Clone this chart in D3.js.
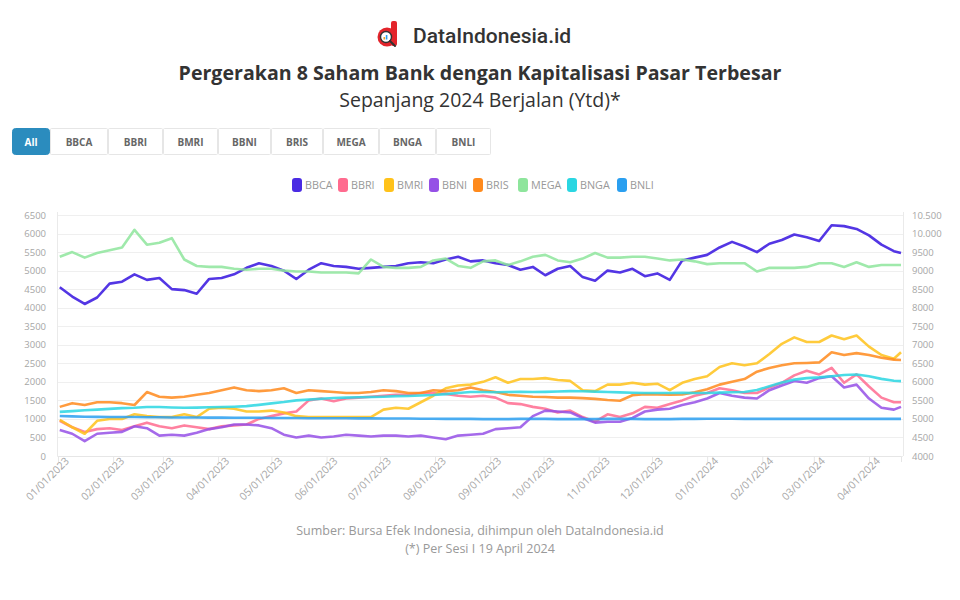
<!DOCTYPE html>
<html>
<head>
<meta charset="utf-8">
<script src="https://cdn.jsdelivr.net/npm/d3@7"></script>
<style>
  html, body { margin: 0; padding: 0; background: #fff; }
  svg { display: block; font-family: "Open Sans", "Noto Sans", sans-serif; }
</style>
</head>
<body>
<svg id="chart" width="960" height="600"></svg>
<script>
// ---------------- DATA ----------------
const dates = [
  "2023-01-02","2023-01-09","2023-01-16","2023-01-23","2023-01-30",
  "2023-02-06","2023-02-13","2023-02-20","2023-02-27",
  "2023-03-06","2023-03-13","2023-03-20","2023-03-27",
  "2023-04-03","2023-04-10","2023-04-17","2023-04-24",
  "2023-05-01","2023-05-08","2023-05-15","2023-05-22","2023-05-29",
  "2023-06-05","2023-06-12","2023-06-19","2023-06-26",
  "2023-07-03","2023-07-10","2023-07-17","2023-07-24","2023-07-31",
  "2023-08-07","2023-08-14","2023-08-21","2023-08-28",
  "2023-09-04","2023-09-11","2023-09-18","2023-09-25",
  "2023-10-02","2023-10-09","2023-10-16","2023-10-23","2023-10-30",
  "2023-11-06","2023-11-13","2023-11-20","2023-11-27",
  "2023-12-04","2023-12-11","2023-12-18","2023-12-25",
  "2024-01-01","2024-01-08","2024-01-15","2024-01-22","2024-01-29",
  "2024-02-05","2024-02-12","2024-02-19","2024-02-26",
  "2024-03-04","2024-03-11","2024-03-18","2024-03-25",
  "2024-04-01","2024-04-08","2024-04-15","2024-04-19"
];

// right axis series
const BBCA = [8550,8300,8100,8275,8650,8700,8900,8750,8800,8500,8475,8375,8775,8800,8900,9075,9200,9125,9000,8775,9025,9200,9125,9100,9050,9075,9100,9125,9200,9225,9200,9300,9375,9250,9275,9200,9150,9025,9100,8875,9050,9125,8825,8725,9000,8950,9050,8850,8925,8750,9275,9350,9425,9625,9775,9650,9500,9725,9825,9975,9900,9800,10225,10200,10125,9950,9700,9525,9475];
const BBRI = [4950,4775,4650,4725,4750,4700,4800,4900,4800,4750,4825,4775,4725,4800,4825,4850,5000,5075,5150,5200,5500,5550,5475,5550,5575,5600,5625,5650,5650,5700,5700,5675,5625,5600,5625,5575,5425,5400,5325,5275,5175,5225,5050,4925,5125,5050,5150,5325,5300,5400,5500,5625,5700,5825,5775,5700,5700,5850,5975,6175,6300,6200,6375,5975,6200,5875,5575,5450,5450];
const BMRI = [4975,4775,4600,4950,5000,5000,5125,5075,5050,5050,5125,5050,5275,5300,5275,5200,5200,5225,5175,5075,5050,5050,5050,5050,5050,5050,5250,5300,5275,5450,5625,5825,5900,5925,6000,6125,5975,6075,6075,6100,6050,6025,5775,5750,5925,5925,5975,5925,5950,5775,5975,6075,6150,6400,6500,6450,6500,6750,7025,7200,7075,7075,7250,7150,7250,6950,6725,6625,6800];
const BBNI = [4700,4600,4400,4600,4625,4650,4800,4750,4550,4575,4550,4625,4725,4775,4850,4850,4825,4750,4575,4500,4550,4500,4525,4575,4550,4525,4550,4550,4525,4550,4500,4450,4550,4575,4600,4725,4750,4775,5075,5225,5200,5175,5025,4900,4925,4925,5025,5200,5250,5275,5375,5450,5550,5700,5625,5575,5550,5775,5900,6025,5975,6100,6150,5850,5925,5550,5300,5250,5325];
// left axis series
const BRIS = [1325,1425,1375,1450,1450,1425,1375,1725,1600,1575,1600,1650,1700,1775,1850,1775,1750,1775,1825,1700,1775,1750,1725,1700,1700,1725,1775,1750,1700,1700,1775,1750,1775,1850,1775,1725,1650,1625,1600,1590,1575,1575,1560,1540,1510,1490,1640,1670,1660,1650,1660,1720,1800,1925,2000,2075,2275,2375,2450,2500,2510,2525,2800,2725,2775,2725,2650,2600,2590];
const MEGA = [5375,5500,5350,5475,5550,5625,6100,5700,5750,5875,5300,5125,5100,5100,5050,5025,5050,5050,5000,4975,4975,4950,4950,4950,4925,5300,5100,5075,5075,5100,5275,5325,5125,5075,5250,5275,5150,5250,5375,5425,5275,5225,5325,5475,5350,5350,5375,5375,5325,5275,5300,5250,5175,5200,5200,5200,4975,5075,5075,5075,5100,5200,5200,5100,5225,5100,5150,5150,5150];
const BNGA = [1190,1210,1235,1250,1270,1290,1300,1320,1320,1310,1300,1305,1315,1320,1330,1345,1380,1420,1455,1500,1520,1545,1565,1575,1585,1590,1600,1615,1620,1630,1645,1670,1700,1725,1725,1720,1725,1730,1725,1730,1740,1750,1745,1735,1725,1715,1705,1700,1700,1700,1705,1700,1700,1710,1720,1725,1780,1880,1980,2060,2100,2120,2150,2185,2200,2150,2080,2030,2020];
const BNLI = [1080,1070,1060,1055,1050,1050,1050,1045,1045,1040,1040,1040,1035,1035,1030,1030,1030,1025,1025,1025,1020,1020,1020,1020,1015,1015,1010,1010,1010,1005,1005,1000,1000,1000,995,995,995,1000,1000,1000,995,995,995,995,1000,1000,1000,995,995,995,1000,1000,1005,1005,1005,1000,1000,1000,1000,1000,1000,1000,1000,1000,1000,1000,1000,1000,1000];

const seriesNames = ["BBCA","BBRI","BMRI","BBNI","BRIS","MEGA","BNGA","BNLI"];
const seriesValues = [BBCA, BBRI, BMRI, BBNI, BRIS, MEGA, BNGA, BNLI];
const seriesAxis = ["right","right","right","right","left","left","left","left"];
const seriesColors = ["#4a2be3","#ff6b8f","#ffc21a","#9550e6","#ff8a1c","#8ee59c","#2ad6e2","#2a9ff0"];

const buttonLabels = ["All","BBCA","BBRI","BMRI","BBNI","BRIS","MEGA","BNGA","BNLI"];
const leftTicks = [0,500,1000,1500,2000,2500,3000,3500,4000,4500,5000,5500,6000,6500];
const rightTicks = [4000,4500,5000,5500,6000,6500,7000,7500,8000,8500,9000,9500,10000,10500];

const titleText = "Pergerakan 8 Saham Bank dengan Kapitalisasi Pasar Terbesar";
const subtitleText = "Sepanjang 2024 Berjalan (Ytd)*";
const sourceText = "Sumber: Bursa Efek Indonesia, dihimpun oleh DataIndonesia.id";
const noteText = "(*) Per Sesi I 19 April 2024";

// ---------------- DRAW ----------------
const svg = d3.select("#chart");
const parse = d3.utcParse("%Y-%m-%d");
const dateObjs = dates.map(parse);

// header logo
const logo = svg.append("g");
logo.append("rect").attr("x", 391).attr("y", 21).attr("width", 6).attr("height", 25).attr("rx", 2).attr("fill", "#e3242b");
logo.append("circle").attr("cx", 387).attr("cy", 37).attr("r", 9.5).attr("fill", "#e3242b");
logo.append("circle").attr("cx", 386).attr("cy", 37).attr("r", 5.5).attr("fill", "#fff").attr("stroke", "#333").attr("stroke-width", 1.4);
logo.append("line").attr("x1", 390).attr("y1", 41).attr("x2", 395).attr("y2", 46).attr("stroke", "#333").attr("stroke-width", 2).attr("stroke-linecap", "round");
logo.append("rect").attr("x", 383.5).attr("y", 37).attr("width", 1.6).attr("height", 2.5).attr("fill", "#f0a020");
logo.append("rect").attr("x", 385.8).attr("y", 35).attr("width", 1.6).attr("height", 4.5).attr("fill", "#2a9ff0");
svg.append("text").attr("x", 413).attr("y", 43).attr("font-family", "Roboto, 'Open Sans', sans-serif")
  .attr("font-size", 21).attr("font-weight", 500).attr("fill", "#333").text("DataIndonesia.id");

svg.append("text").attr("x", 480).attr("y", 80).attr("text-anchor", "middle")
  .attr("font-size", 19.6).attr("font-weight", 700).attr("fill", "#333").text(titleText);
svg.append("text").attr("x", 480).attr("y", 107).attr("text-anchor", "middle")
  .attr("font-size", 19.5).attr("fill", "#333").text(subtitleText);

// buttons
const btnX = [12,50,108,163,218,271,323,379,436,491];
const btnG = svg.append("g");
buttonLabels.forEach((lab, i) => {
  const x0 = btnX[i], w = btnX[i+1] - btnX[i];
  btnG.append("rect").attr("x", x0 + 0.5).attr("y", 128.5).attr("width", w - 1).attr("height", 26).attr("rx", i === 0 ? 3 : 1)
    .attr("fill", i === 0 ? "#2b8cbe" : "#fff").attr("stroke", i === 0 ? "#2b8cbe" : "#e6e6e6");
  btnG.append("text").attr("x", x0 + w / 2).attr("y", 145.5).attr("text-anchor", "middle")
    .attr("font-size", 10).attr("font-weight", 700).attr("fill", i === 0 ? "#fff" : "#666").text(lab);
});

// legend
const legX = [297,343,389,434,478,523,572,622];
const legG = svg.append("g");
seriesNames.forEach((n, i) => {
  legG.append("rect").attr("x", legX[i] - 5).attr("y", 178).attr("width", 10).attr("height", 14).attr("rx", 3).attr("fill", seriesColors[i]);
  legG.append("text").attr("x", legX[i] + 8).attr("y", 189).attr("font-size", 10.8).attr("fill", "#999").text(n);
});

// scales
const x = d3.scaleUtc().domain([parse("2023-01-01"), parse("2024-04-19")]).range([58, 901]);
const yL = d3.scaleLinear().domain([0, 6500]).range([456, 215]);
const yR = d3.scaleLinear().domain([4000, 10500]).range([456, 215]);

// grid
const grid = svg.append("g");
leftTicks.forEach(t => {
  grid.append("line").attr("x1", 57).attr("x2", 903).attr("y1", Math.round(yL(t)) + 0.5).attr("y2", Math.round(yL(t)) + 0.5)
    .attr("stroke", "#efefef").attr("stroke-width", 1);
});
grid.append("line").attr("x1", 57.5).attr("x2", 57.5).attr("y1", 212).attr("y2", 456).attr("stroke", "#eaeaea");
grid.append("line").attr("x1", 903.5).attr("x2", 903.5).attr("y1", 212).attr("y2", 456).attr("stroke", "#eaeaea");

// left axis
const axL = svg.append("g").attr("transform", "translate(57,0)")
  .call(d3.axisLeft(yL).tickValues(leftTicks).tickSize(0).tickPadding(11).tickFormat(d3.format("d")));
axL.select(".domain").remove();
axL.selectAll("text").attr("font-size", 9.5).attr("fill", "#a6a6a6").attr("font-family", "'Open Sans', sans-serif");

// right axis
const fmtR = v => v >= 10000 ? d3.format(",")(v).replace(/,/g, ".") : String(v);
const axR = svg.append("g").attr("transform", "translate(903,0)")
  .call(d3.axisRight(yR).tickValues(rightTicks).tickSize(0).tickPadding(9).tickFormat(fmtR));
axR.select(".domain").remove();
axR.selectAll("text").attr("font-size", 9.5).attr("fill", "#a6a6a6").attr("font-family", "'Open Sans', sans-serif");

// x axis
const monthTicks = d3.utcMonth.range(parse("2023-01-01"), parse("2024-04-02"));
const axX = svg.append("g").attr("transform", "translate(0,456)")
  .call(d3.axisBottom(x).tickValues(monthTicks).tickSize(6).tickFormat(d3.utcFormat("%m/%d/%Y")));
axX.select(".domain").attr("stroke", "#e6e6e6");
axX.selectAll(".tick line").attr("stroke", "#e6e6e6");
axX.selectAll("text").attr("font-size", 10.5).attr("fill", "#a6a6a6").attr("font-family", "'Open Sans', sans-serif")
  .attr("text-anchor", "end").attr("dy", 0).attr("y", 12).attr("x", 4)
  .attr("transform", "rotate(-45)");

// lines
const linesG = svg.append("g");
seriesNames.forEach((n, i) => {
  const yS = seriesAxis[i] === "right" ? yR : yL;
  const pts = seriesValues[i].map((v, j) => [dateObjs[j], v]);
  const line = d3.line().x(d => x(d[0])).y(d => yS(d[1])).curve(d3.curveLinear);
  linesG.append("path").datum(pts).attr("d", line).attr("fill", "none")
    .attr("stroke", seriesColors[i]).attr("stroke-width", 2.6).attr("stroke-linejoin", "round")
    .attr("stroke-opacity", n === "BBCA" ? 0.95 : 0.85);
});

// footer
svg.append("text").attr("x", 480).attr("y", 535).attr("text-anchor", "middle").attr("font-size", 12.5).attr("fill", "#999").text(sourceText);
svg.append("text").attr("x", 480).attr("y", 553).attr("text-anchor", "middle").attr("font-size", 12.5).attr("fill", "#999").text(noteText);
</script>
</body>
</html>
